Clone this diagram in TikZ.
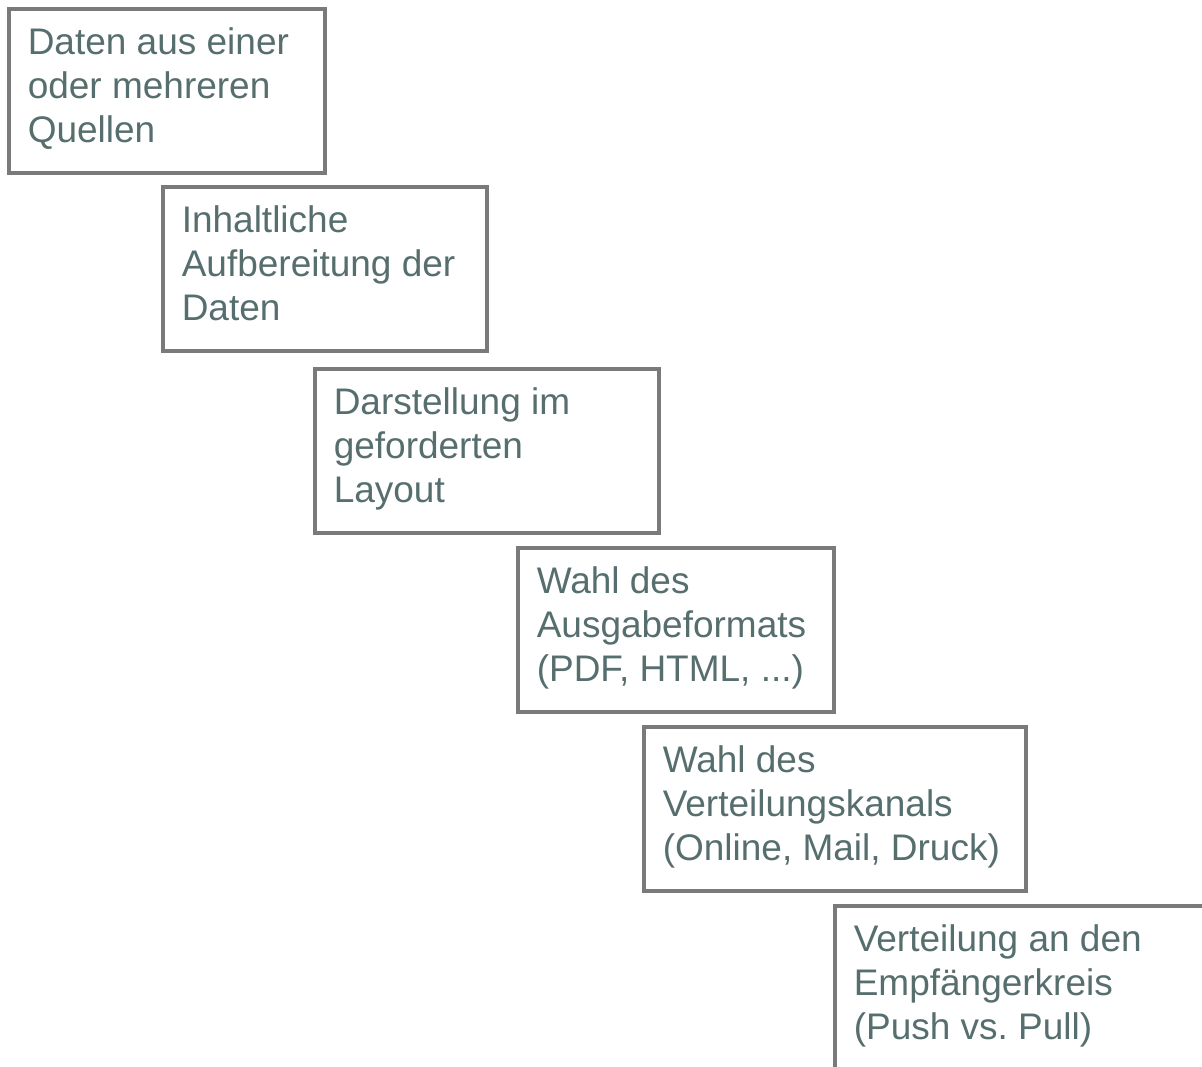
\documentclass[tikz,border=0pt]{standalone}
\usepackage{fontspec}
\setmainfont{Liberation Sans}
\definecolor{boxgray}{HTML}{7A7A7A}
\definecolor{textslate}{HTML}{576E6E}
\newcommand{\steptext}[2]{\parbox[c][126pt][t]{#1}{\raggedright #2}}
\frenchspacing

\begin{document}
\begin{tikzpicture}[x=1pt,y=1pt,
  stepbox/.style={draw=boxgray,line width=3.5pt,anchor=north west,inner xsep=19pt,inner ysep=19pt,
    text=textslate,font=\fontsize{37}{44}\selectfont}]

\useasboundingbox (0,0) rectangle (1202,-1066);
\clip (0,0) rectangle (1202,-1066);

\node[stepbox](s1) at (7,-7){\steptext{278pt}{Daten aus einer\\oder mehreren\\Quellen}};
\node[stepbox](s2) at (161,-185){\steptext{286pt}{Inhaltliche\\Aufbereitung der\\Daten}};
\node[stepbox](s3) at (313,-367){\steptext{306pt}{Darstellung im\\geforderten\\Layout}};
\node[stepbox](s4) at (516,-546){\steptext{278pt}{Wahl des\\Ausgabeformats\\(PDF, HTML, ...)}};
\node[stepbox](s5) at (642,-725){\steptext{344pt}{Wahl des\\Verteilungskanals\\(Online, Mail, Druck)}};
\node[stepbox](s6) at (833,-904){\steptext{344pt}{Verteilung an den\\Empfängerkreis\\(Push vs. Pull)}};

\end{tikzpicture}
\end{document}
